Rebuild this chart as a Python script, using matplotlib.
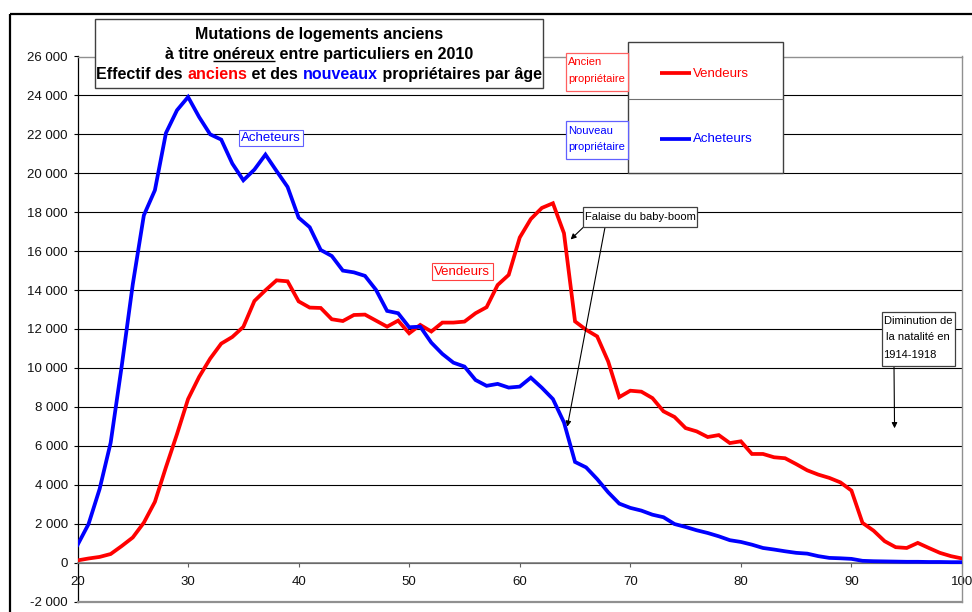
import matplotlib

matplotlib.use("Agg")
import matplotlib.pyplot as plt
from matplotlib import font_manager
from matplotlib.lines import Line2D
from matplotlib.patches import Rectangle
from matplotlib.ticker import FuncFormatter

# données (effectifs par âge)
ages = list(range(20, 101))
vendeurs = [
    110, 210, 290, 440, 850, 1290, 2050, 3120, 4900, 6600,
    8400, 9540, 10480, 11250, 11590, 12110, 13440, 13990, 14500, 14450,
    13420, 13100, 13080, 12500, 12410, 12720, 12740, 12430, 12120, 12430,
    11780, 12210, 11870, 12330, 12330, 12380, 12810, 13120, 14260, 14780,
    16700, 17650, 18220, 18460, 16920, 12390, 11960, 11620, 10330, 8500,
    8830, 8780, 8450, 7770, 7480, 6910, 6740, 6450, 6550, 6140,
    6230, 5580, 5580, 5410, 5360, 5060, 4740, 4520, 4350, 4120,
    3700, 2040, 1640, 1100, 790, 750, 1010, 750, 500, 330,
    210,
]
acheteurs = [
    900, 1980, 3780, 6160, 10100, 14300, 17840, 19130, 22070, 23240,
    23920, 22890, 22000, 21730, 20500, 19640, 20190, 20960, 20120, 19300,
    17720, 17230, 16060, 15750, 15000, 14910, 14730, 14010, 12930, 12810,
    12090, 12120, 11300, 10720, 10270, 10070, 9380, 9080, 9180, 8990,
    9040, 9500, 8980, 8400, 7200, 5170, 4890, 4290, 3610, 3030,
    2810, 2670, 2460, 2330, 1980, 1830, 1660, 1520, 1350, 1150,
    1060, 920, 750, 670, 580, 500, 460, 330, 240, 220,
    190, 90, 70, 60, 50, 40, 40, 30, 30, 20,
    20,
]
x_ticks = list(range(20, 101, 10))
y_ticks = list(range(-2000, 26001, 2000))

title_lines = [
    [("Mutations de logements anciens", "black")],
    [("à titre ", "black"), ("onéreux", "black"), (" entre particuliers en 2010", "black")],
    [("Effectif des ", "black"), ("anciens", "red"), (" et des ", "black"),
     ("nouveaux", "blue"), (" propriétaires par âge", "black")],
]

W, H = 972, 612
RED, BLUE = "#ff0000", "#0000ff"
FONT = "Liberation Sans"
installed = {f.name for f in font_manager.fontManager.ttflist}
NARROW = "Liberation Sans Narrow" if "Liberation Sans Narrow" in installed else FONT
SMALL = 9.4 if NARROW != FONT else 8.0
plt.rcParams["font.family"] = [FONT, "DejaVu Sans"]


def fx(x):
    return x / W


def fy(y):
    # y compté depuis le haut de l'image, en pixels
    return 1 - y / H


fig = plt.figure(figsize=(W / 100, H / 100), dpi=100)
fig.patch.set_facecolor("white")
ax = fig.add_axes([fx(77.5), fy(601.5), fx(962) - fx(77.5), fy(56.5) - fy(601.5)])

ax.plot(ages, vendeurs, color=RED, lw=2.7, solid_joinstyle="miter", zorder=3)
ax.plot(ages, acheteurs, color=BLUE, lw=2.7, solid_joinstyle="miter", zorder=3)

ax.set_xlim(20, 100)
ax.set_ylim(-2000, 26000)
ax.set_xticks(x_ticks)
ax.set_yticks(y_ticks)
ax.yaxis.set_major_formatter(FuncFormatter(lambda v, _: f"{int(v):,}".replace(",", " ")))
ax.yaxis.grid(True, color="black", lw=0.8)
ax.set_axisbelow(True)

ax.spines["bottom"].set_position(("data", 0))
ax.spines["bottom"].set_color("#808080")
ax.spines["bottom"].set_linewidth(1.2)
ax.spines["left"].set_color("black")
ax.spines["left"].set_linewidth(0.9)
for side in ("top", "right"):
    ax.spines[side].set_color("#909090")
    ax.spines[side].set_linewidth(1.0)
ax.axhline(-2000, color="#909090", lw=1.6, clip_on=False, zorder=2.6)

ax.tick_params(axis="x", direction="out", length=3, width=0.8, color="#606060",
               pad=6.5, labelsize=9.5, labelcolor="#111111")
ax.tick_params(axis="y", direction="out", length=3, width=0.8, color="black",
               pad=4, labelsize=9.5, labelcolor="#111111")


def box(x0, y0, x1, y1, edge, lw=1.0):
    fig.add_artist(Rectangle((fx(x0), fy(y1)), fx(x1) - fx(x0), fy(y0) - fy(y1),
                             transform=fig.transFigure, facecolor="white",
                             edgecolor=edge, lw=lw, zorder=5))


def fline(xs, ys, color, lw, z=6):
    fig.add_artist(Line2D([fx(x) for x in xs], [fy(y) for y in ys],
                          transform=fig.transFigure, color=color, lw=lw,
                          solid_capstyle="butt", zorder=z))


def ftext(x, y, s, color, size, family=FONT, ha="left", va="center", weight="normal"):
    return fig.text(fx(x), fy(y), s, color=color, fontsize=size, family=family,
                    ha=ha, va=va, fontweight=weight, zorder=7)


# cadre extérieur
fline([9.6, 9.6], [14, 612], "black", 1.6)
fline([9.6, 972], [14, 14], "black", 1.6)

# titre sur plusieurs couleurs
box(95, 19.3, 543, 87.7, "#404040", 1.0)
renderer = fig.canvas.get_renderer()


def text_width(s, size, weight):
    t = fig.text(0, 0, s + "|", fontsize=size, fontweight=weight, family=FONT)
    w = t.get_window_extent(renderer).width
    t.remove()
    return w


title_size = 11.5
bar = text_width("", title_size, "bold")
for base_y, pieces in zip((39, 59, 79), title_lines):
    full = "".join(s for s, _ in pieces)
    left = 319 - (text_width(full, title_size, "bold") - bar) / 2
    prefix = ""
    for s, c in pieces:
        x0 = left + text_width(prefix, title_size, "bold") - bar
        ftext(x0, base_y, s, c, title_size, va="baseline", weight="bold")
        if s == "onéreux":
            x1 = left + text_width(prefix + s, title_size, "bold") - bar
            fline([x0, x1], [base_y + 2.2, base_y + 2.2], "black", 1.0, z=7)
        prefix += s

# légende
box(628, 42, 783, 172.7, "#404040", 1.0)
fline([628, 783], [99, 99], "#707070", 0.8)
fline([660, 691], [73.3, 73.3], RED, 2.7)
ftext(693, 74, "Vendeurs", RED, 9.5)
fline([660, 691], [138.7, 138.7], BLUE, 2.7)
ftext(693, 139.5, "Acheteurs", BLUE, 9.5)

box(565.7, 53, 628, 91, "#ff6060", 0.9)
ftext(568.3, 62, "Ancien", RED, SMALL, family=NARROW)
ftext(568.3, 78.5, "propriétaire", RED, SMALL, family=NARROW)
box(565.7, 121, 628, 159.3, "#6060ff", 0.9)
ftext(568.3, 131, "Nouveau", BLUE, SMALL, family=NARROW)
ftext(568.3, 147.5, "propriétaire", BLUE, SMALL, family=NARROW)

# étiquettes des courbes
ax.text(37.5, 21800, "Acheteurs", color=BLUE, fontsize=9.5, ha="center", va="center",
        zorder=6, bbox=dict(boxstyle="square,pad=0.15", fc="white", ec="#6060ff", lw=0.8))
ax.text(54.8, 14950, "Vendeurs", color=RED, fontsize=9.5, ha="center", va="center",
        zorder=6, bbox=dict(boxstyle="square,pad=0.2", fc="white", ec="#ff4040", lw=0.8))

# annotations
box(582.7, 206.7, 697.3, 227.3, "#404040", 0.9)
ftext(585, 216.5, "Falaise du baby-boom", "black", SMALL, family=NARROW)
arrow = dict(arrowstyle="-|>", color="black", lw=0.8, mutation_scale=8, shrinkA=0, shrinkB=0)
ax.annotate("", xy=(64.6, 16600), xycoords="data", xytext=(583.3, H - 227.3),
            textcoords="figure pixels", arrowprops=arrow, zorder=6)
ax.annotate("", xy=(64.3, 6980), xycoords="data", xytext=(605, H - 227.3),
            textcoords="figure pixels", arrowprops=arrow, zorder=6)

box(881.7, 312.3, 955, 366, "#404040", 0.9)
ftext(883.5, 320.5, "Diminution de", "black", SMALL, family=NARROW)
ftext(886, 337.5, "la natalité en", "black", SMALL, family=NARROW)
ftext(883.5, 354.5, "1914-1918", "black", SMALL, family=NARROW)
ax.annotate("", xy=(93.9, 6900), xycoords="data", xytext=(894, H - 366),
            textcoords="figure pixels", arrowprops=arrow, zorder=6)

fig.savefig("out.png", dpi=100)
plt.close(fig)
